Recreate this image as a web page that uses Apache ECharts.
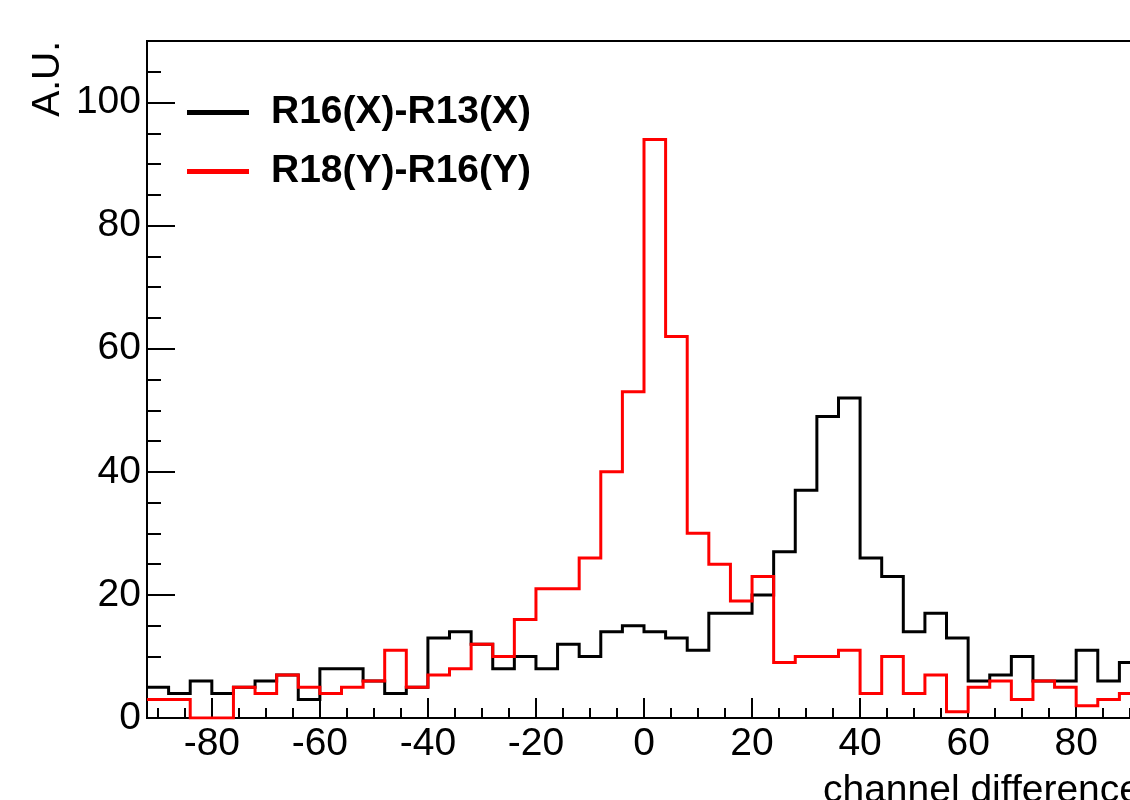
<!DOCTYPE html>
<html>
<head>
<meta charset="utf-8">
<script src="https://cdn.jsdelivr.net/npm/echarts@6/dist/echarts.min.js"></script>
<style>
html,body{margin:0;padding:0;background:#fff;}
#chart{width:1130px;height:800px;}
</style>
</head>
<body>
<div id="chart"></div>
<script>
// ---- data (histogram, 4-unit bins starting at -92) ----
const binStart = -92;
const binWidth = 4;
const seriesNames = ['R16(X)-R13(X)', 'R18(Y)-R16(Y)'];
const r16xMinusR13x = [5,4,6,4,5,6,7,3,8,8,6,4,5,13,14,12,8,10,8,12,10,14,15,14,13,11,17,17,20,27,37,49,52,26,23,14,17,13,6,7,10,6,6,11,6,9];
const r18yMinusR16y = [3,3,0,0,5,4,7,5,4,5,6,11,5,7,8,12,10,16,21,21,26,40,53,94,62,30,25,19,23,9,10,10,11,4,10,4,7,1,5,6,3,6,5,2,3,4];
const xTickLabels = [-80,-60,-40,-20,0,20,40,60,80];
const yTickLabels = [0,20,40,60,80,100];
const xTitle = 'channel difference';
const yTitle = 'A.U.';

const FONT = 'Liberation Sans';
const BLACK = '#000000';
const RED = '#ff0000';

function histPoints(vals) {
  const pts = vals.map((v, i) => [binStart + i * binWidth, v]);
  pts.push([binStart + vals.length * binWidth, vals[vals.length - 1]]);
  return pts;
}

const chart = echarts.init(document.getElementById('chart'), null, {renderer: 'canvas'});

const axisLineStyle = {color: BLACK, width: 2};

const option = {
  animation: false,
  backgroundColor: '#ffffff',
  grid: {
    left: 147, right: -11, top: 41, bottom: 82,
    show: true, borderColor: BLACK, borderWidth: 2, backgroundColor: 'transparent',
    containLabel: false, outerBoundsMode: 'none'
  },
  legend: {
    orient: 'vertical', left: 187, top: 93, padding: 0, itemGap: 20,
    itemWidth: 62, itemHeight: 5, icon: 'rect', selectedMode: false,
    itemStyle: {borderWidth: 0},
    textStyle: {fontFamily: FONT, fontWeight: 'bold', fontSize: 39, color: BLACK, padding: [0, 0, 0, 17]},
    data: seriesNames
  },
  xAxis: [
    {
      type: 'value', min: binStart, max: -binStart, splitNumber: 9, position: 'bottom',
      axisLine: {show: true, onZero: false, lineStyle: axisLineStyle},
      axisTick: {show: true, inside: true, length: 20, lineStyle: axisLineStyle},
      axisLabel: {
        show: true, margin: 7, color: BLACK, fontSize: 39, fontFamily: FONT,
        showMinLabel: false, showMaxLabel: false,
        formatter: v => (xTickLabels.indexOf(v) >= 0 ? String(v) : '')
      },
      splitLine: {show: false},
      name: xTitle, nameLocation: 'end', nameGap: 0, nameMoveOverlap: false,
      nameTextStyle: {fontSize: 39, fontFamily: FONT, color: BLACK, align: 'right', verticalAlign: 'top', padding: [54, 0, 0, 0]}
    },
    {
      type: 'value', min: binStart, max: -binStart, splitNumber: 37, position: 'bottom',
      axisLine: {show: false, onZero: false},
      axisTick: {show: true, inside: true, length: 10, lineStyle: axisLineStyle},
      axisLabel: {show: false},
      splitLine: {show: false}
    }
  ],
  yAxis: [
    {
      type: 'value', min: 0, max: 110, interval: 20, position: 'left',
      axisLine: {show: true, onZero: false, lineStyle: axisLineStyle},
      axisTick: {show: true, inside: true, length: 28, lineStyle: axisLineStyle},
      axisLabel: {
        show: true, margin: 6, color: BLACK, fontSize: 39, fontFamily: FONT,
        showMaxLabel: false,
        formatter: v => (yTickLabels.indexOf(v) >= 0 ? String(v) : '')
      },
      splitLine: {show: false}
    },
    {
      type: 'value', min: 0, max: 110, interval: 5, position: 'left',
      axisLine: {show: false, onZero: false},
      axisTick: {show: true, inside: true, length: 14, lineStyle: axisLineStyle},
      axisLabel: {show: false},
      splitLine: {show: false}
    }
  ],
  graphic: [
    {
      type: 'text', x: 48.5, y: 41, rotation: Math.PI / 2,
      style: {
        text: yTitle, fontSize: 39, fontFamily: FONT, fill: BLACK,
        align: 'right', verticalAlign: 'middle', textAlign: 'right', textVerticalAlign: 'middle'
      }
    }
  ],
  series: [
    {
      name: seriesNames[0], type: 'line', step: 'end', xAxisIndex: 0, yAxisIndex: 0,
      data: histPoints(r16xMinusR13x), symbol: 'none', showSymbol: false,
      color: BLACK, itemStyle: {color: BLACK},
      lineStyle: {color: BLACK, width: 3, join: 'miter'}, z: 2
    },
    {
      name: seriesNames[1], type: 'line', step: 'end', xAxisIndex: 0, yAxisIndex: 0,
      data: histPoints(r18yMinusR16y), symbol: 'none', showSymbol: false,
      color: RED, itemStyle: {color: RED},
      lineStyle: {color: RED, width: 3, join: 'miter'}, z: 3
    }
  ]
};
chart.setOption(option);
</script>
</body>
</html>
